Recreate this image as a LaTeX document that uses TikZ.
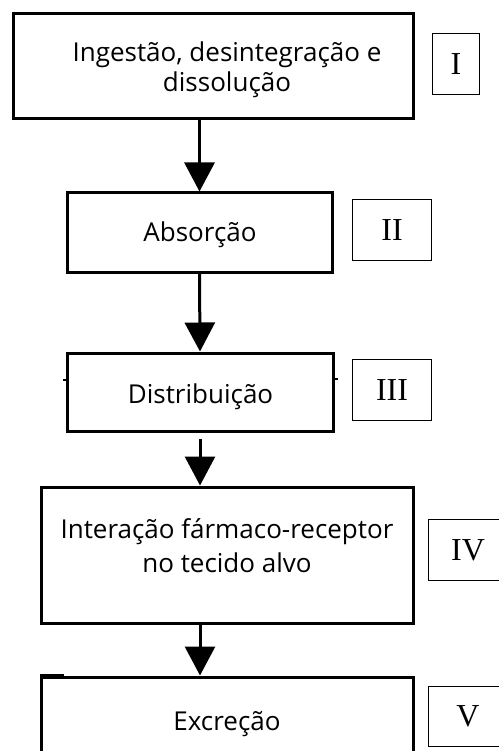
\documentclass[tikz,border=0pt]{standalone}
\usepackage{fontspec}
\setmainfont{Liberation Serif}
\newfontfamily\stepfont{Open Sans}
\usetikzlibrary{arrows.meta}

\begin{document}
\begin{tikzpicture}[x=1pt,y=-1pt]
\tikzstyle{every node}+=[inner sep=0pt]
\tikzstyle{stepbox}=[draw=black, line width=3pt, rectangle]
\tikzstyle{steptext}=[align=center, anchor=base, font=\stepfont\fontsize{26}{30}\selectfont]
\tikzstyle{tagbox}=[draw=black, line width=1pt, minimum width=79.5pt, minimum height=60.5pt, font=\fontsize{32}{36}\selectfont]
\tikzstyle{flow}=[black, line width=3pt, -{Triangle[width=30pt,length=29pt]}]
\useasboundingbox (0,0) rectangle (498,751);
\node [stepbox, minimum width=400pt, minimum height=105pt] (ing) at (213,66) {};
\node [steptext] (ingtxt) at (227,92) {Ingestão, desintegração e\\dissolução};
\node [stepbox, minimum width=265pt, minimum height=79pt] (abs) at (199.5,232.5) {};
\node [steptext] (abstxt) at (200,241) {Absorção};
\node [stepbox, minimum width=266pt, minimum height=78pt] (dist) at (200,392) {};
\node [steptext] (disttxt) at (200.5,403) {Distribuição};
\node [stepbox, minimum width=372pt, minimum height=136pt] (inter) at (227,555) {};
\node [steptext] (intertxt) at (227,572) {Interação fármaco-receptor\\[3.4pt]no tecido alvo};
\node [stepbox, minimum width=372pt, minimum height=112pt] (exc) at (227,733) {};
\node [steptext] (exctxt) at (227,730) {Excreção};
\node [tagbox, minimum width=47.5pt] (tag1) at (456,64) {I};
\node [tagbox] (tag2) at (392,230) {II};
\node [tagbox] (tag3) at (392,390) {III};
\node [tagbox] (tag4) at (468,550) {IV};
\node [tagbox] (tag5) at (468,716.5) {V};
\draw [flow] (abs.north |- ing.south) -- (abs.north);
\draw [flow] (abs.south) -- (dist.north);
\draw [flow, shorten <=6pt] (dist.south) -- (dist.south |- inter.north);
\draw [flow] (dist.south |- inter.south) -- (dist.south |- exc.north);
\draw [black, line width=2pt] (dist.west) ++(-3,-12) -- ++(4,0);
\draw [black, line width=2pt] (dist.east) ++(-1,-13) -- ++(4,0);
\draw [black, line width=2pt] (exc.north west) ++(0,-0.5) -- ++(24,0);
\end{tikzpicture}
\end{document}
